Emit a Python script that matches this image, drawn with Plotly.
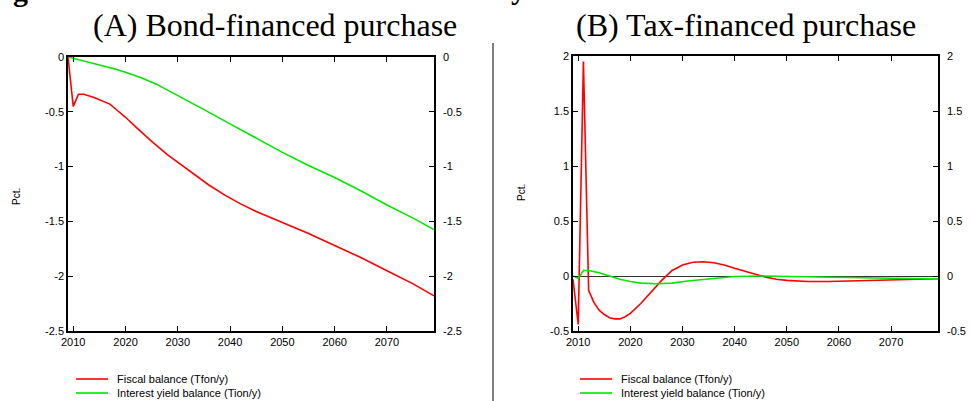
import plotly.graph_objects as go

# ---------------- data ----------------
# Panel A: Bond-financed purchase
a_fiscal_years = [2009, 2010, 2011, 2012, 2014, 2016, 2017, 2018, 2020, 2022, 2025, 2028,
                  2030, 2033, 2036, 2039, 2042, 2045, 2050, 2055, 2060, 2065, 2070, 2075, 2079]
a_fiscal_vals = [0.0, -0.45, -0.34, -0.34, -0.37, -0.41, -0.43, -0.47, -0.55, -0.64, -0.77, -0.89,
                 -0.96, -1.07, -1.17, -1.26, -1.34, -1.41, -1.51, -1.61, -1.72, -1.83, -1.95, -2.07, -2.18]
a_yield_years = [2009, 2012, 2015, 2018, 2020, 2023, 2026, 2030, 2035, 2040, 2045, 2050, 2055, 2060,
                 2065, 2070, 2075, 2079]
a_yield_vals = [0.0, -0.035, -0.07, -0.11, -0.14, -0.19, -0.25, -0.35, -0.48, -0.61, -0.74, -0.87,
                -0.99, -1.10, -1.22, -1.35, -1.47, -1.575]

# Panel B: Tax-financed purchase
b_fiscal_years = [2009, 2010, 2011, 2012, 2013, 2014, 2015, 2016, 2017, 2018, 2019, 2020, 2022,
                  2024, 2026, 2028, 2030, 2032, 2034, 2036, 2038, 2040, 2042, 2044, 2046, 2048,
                  2050, 2054, 2058, 2062, 2066, 2070, 2075, 2079]
b_fiscal_vals = [-0.03, -0.44, 1.95, -0.13, -0.24, -0.31, -0.35, -0.38, -0.39, -0.39, -0.37, -0.34,
                 -0.25, -0.15, -0.04, 0.05, 0.10, 0.125, 0.13, 0.12, 0.10, 0.07, 0.04, 0.015, -0.01,
                 -0.03, -0.04, -0.05, -0.05, -0.045, -0.04, -0.035, -0.03, -0.025]
b_yield_years = [2009, 2010, 2011, 2012, 2014, 2016, 2018, 2020, 2022, 2025, 2028, 2031, 2034,
                 2037, 2040, 2045, 2050, 2060, 2070, 2079]
b_yield_vals = [0.0, -0.02, 0.05, 0.05, 0.03, 0.0, -0.03, -0.05, -0.065, -0.07, -0.065, -0.045,
                -0.03, -0.02, -0.005, 0.0, -0.005, -0.01, -0.02, -0.025]

x_tickvals = [2010, 2020, 2030, 2040, 2050, 2060, 2070]
x_ticktext = ["2010", "2020", "2030", "2040", "2050", "2060", "2070"]
a_tickvals = [0, -0.5, -1, -1.5, -2, -2.5]
a_ticktext = ["0", "-0.5", "-1", "-1.5", "-2", "-2.5"]
b_tickvals = [2, 1.5, 1, 0.5, 0, -0.5]
b_ticktext = ["2", "1.5", "1", "0.5", "0", "-0.5"]

titles = ["(A) Bond-financed purchase", "(B) Tax-financed purchase"]
series_names = ["Fiscal balance (Tfon/y)", "Interest yield balance (Tion/y)"]
colors = ["#ff0000", "#00e600"]

# ---------------- layout geometry ----------------
W, H = 970, 401
def px(x):
    return x / W
def py(y):
    return 1 - y / H

xdomA = [px(68), px(434)]
xdomB = [px(573), px(938)]
ydom = [py(331), py(57)]
ydomB = [py(331), py(56)]

fig = go.Figure()
lw = 1.6
panel_series = [
    ("x", "y", "y3", [(a_fiscal_years, a_fiscal_vals), (a_yield_years, a_yield_vals)]),
    ("x2", "y2", "y4", [(b_fiscal_years, b_fiscal_vals), (b_yield_years, b_yield_vals)]),
]
for xa, ya, ya_right, series in panel_series:
    for i, (xs, ys) in enumerate(series):
        fig.add_trace(go.Scatter(x=xs, y=ys, mode="lines", name=series_names[i],
                                 line=dict(color=colors[i], width=lw), xaxis=xa, yaxis=ya,
                                 showlegend=False))
    # invisible companion so that the right-hand mirrored tick labels are drawn
    fig.add_trace(go.Scatter(x=series[0][0], y=series[0][1], mode="lines", xaxis=xa, yaxis=ya_right,
                             line=dict(width=0, color="rgba(0,0,0,0)"), hoverinfo="skip",
                             showlegend=False))

tickfont = dict(family="Liberation Sans, Arial, sans-serif", size=11, color="black")
common_x = dict(range=[2009, 2079], tickvals=x_tickvals, ticktext=x_ticktext, ticks="inside",
                ticklen=5, tickwidth=1, tickcolor="black", showline=True, linecolor="black",
                linewidth=1.5, mirror="ticks", showgrid=False, zeroline=False, tickfont=tickfont,
                automargin=False)
common_y = dict(ticks="inside", ticklen=5, tickwidth=1, tickcolor="black", showline=True,
                linecolor="black", linewidth=1.5, mirror="ticks", showgrid=False, tickfont=tickfont,
                automargin=False)
right_y = dict(side="right", ticks="", showline=False, showgrid=False, zeroline=False,
               tickfont=tickfont, automargin=False, ticklabelstandoff=8)

fig.update_layout(
    template="none",
    width=W, height=H,
    margin=dict(l=0, r=0, t=0, b=0, pad=0, autoexpand=False),
    paper_bgcolor="white", plot_bgcolor="white",
    showlegend=False,
    xaxis=dict(domain=xdomA, anchor="y", **common_x),
    yaxis=dict(domain=ydom, anchor="x", range=[-2.5, 0], tickvals=a_tickvals, ticktext=a_ticktext,
               zeroline=False, **common_y),
    yaxis3=dict(overlaying="y", anchor="x", range=[-2.5, 0], tickvals=a_tickvals,
                ticktext=a_ticktext, **right_y),
    xaxis2=dict(domain=xdomB, anchor="y2", **common_x),
    yaxis2=dict(domain=ydomB, anchor="x2", range=[-0.5, 2], tickvals=b_tickvals, ticktext=b_ticktext,
                zeroline=True, zerolinecolor="#333333", zerolinewidth=1, **common_y),
    yaxis4=dict(overlaying="y2", anchor="x2", range=[-0.5, 2], tickvals=b_tickvals,
                ticktext=b_ticktext, **right_y),
)

serif = "Liberation Serif, Times New Roman, serif"
sans = "Liberation Sans, Arial, sans-serif"
fig.add_annotation(text=titles[0], x=px(275), y=py(25), xref="paper", yref="paper",
                   xanchor="center", yanchor="middle",
                   showarrow=False, font=dict(family=serif, size=32, color="black"))
fig.add_annotation(text=titles[1], x=px(746), y=py(25), xref="paper", yref="paper",
                   xanchor="center", yanchor="middle",
                   showarrow=False, font=dict(family=serif, size=32, color="black"))
for xx, yy in [(17, 197), (521, 193)]:
    fig.add_annotation(text="Pct.", x=px(xx), y=py(yy), xref="paper", yref="paper", textangle=-90,
                       xanchor="center", yanchor="middle",
                       showarrow=False, font=dict(family=sans, size=10, color="black"))
# clipped caption fragments at the very top
fig.add_annotation(text="<b>g</b>", x=px(20), y=py(9), xref="paper", yref="paper",
                   xanchor="center", yanchor="bottom",
                   showarrow=False, font=dict(family=serif, size=30, color="black"))
fig.add_annotation(text="<b>y</b>", x=px(518), y=py(7), xref="paper", yref="paper",
                   xanchor="center", yanchor="bottom",
                   showarrow=False, font=dict(family=serif, size=30, color="black"))

# legends (one under each panel)
for x_line, x_text in [(76, 115), (580, 619)]:
    for i, y_item in enumerate([379, 393]):
        fig.add_shape(type="line", xref="paper", yref="paper", x0=px(x_line), x1=px(x_line + 32),
                      y0=py(y_item), y1=py(y_item), line=dict(color=colors[i], width=1.6))
        fig.add_annotation(text=series_names[i], x=px(x_text), y=py(y_item), xref="paper",
                           yref="paper", xanchor="left", yanchor="middle", showarrow=False,
                           font=dict(family=sans, size=11, color="black"))

fig.add_shape(type="line", xref="paper", yref="paper", x0=px(493), x1=px(493), y0=0, y1=py(43),
              line=dict(color="black", width=1))

fig.write_html("out.html", config={"displayModeBar": False},
               post_script="document.body.style.margin='0px';")
